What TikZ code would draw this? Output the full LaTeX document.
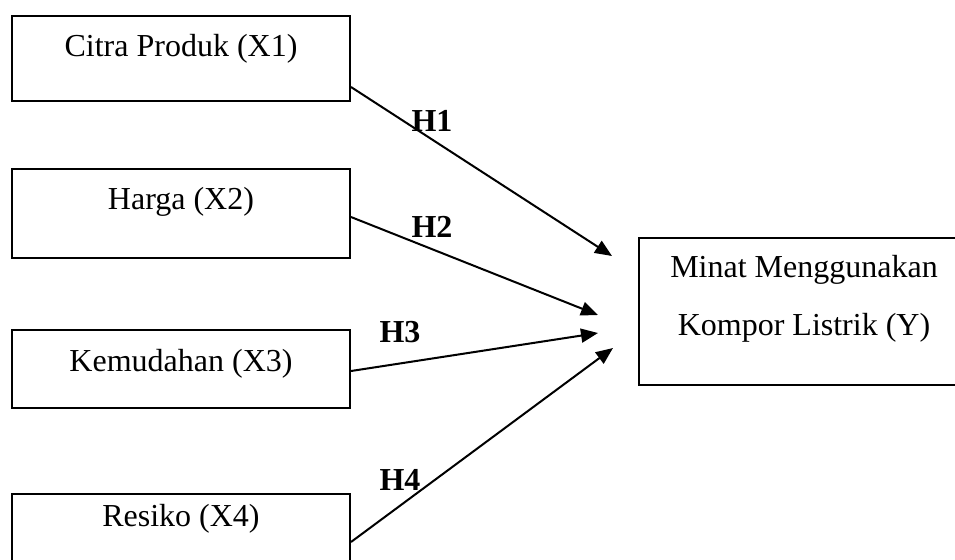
\documentclass[tikz,border=0pt]{standalone}
\usepackage{fontspec}
\setmainfont{Liberation Serif}
\usetikzlibrary{arrows.meta}
\tikzset{
  box/.style={draw, line width=1pt, rectangle, inner sep=0pt, anchor=north west,
    minimum width=169pt, font=\fontsize{16pt}{19.2pt}\selectfont},
  arr/.style={line width=1pt, -{Triangle[length=8.5pt,width=7pt]}},
  hlab/.style={inner sep=0pt, font=\fontsize{16pt}{19.2pt}\selectfont\bfseries}
}
\begin{document}
\begin{tikzpicture}[x=0.5pt,y=-0.5pt]
\useasboundingbox (0,0) rectangle (955,559);
\clip (0,0) rectangle (955,559);
\node[box, text height=20pt, text depth=22.5pt] (x1) at (11,15) {Citra Produk (X1)};
\node[box, text height=20pt, text depth=24.5pt] (x2) at (11,168) {Harga (X2)};
\node[box, text height=20.5pt, text depth=18.5pt] (x3) at (11,329) {Kemudahan (X3)};
\node[box, text height=16pt, text depth=25pt] (x4) at (11,493) {Resiko (X4)};
\node[box, minimum width=165pt, text height=19.5pt, text depth=54pt] (y) at (638,237)
  {\renewcommand\arraystretch{1.536}\begin{tabular}[t]{@{}c@{}}Minat Menggunakan\\Kompor Listrik (Y)\end{tabular}};
\coordinate (t1) at (612,256);
\coordinate (t2) at (598,315);
\coordinate (t3) at (598,333);
\coordinate (t4) at (613,348);
\draw[arr] (x1.north east) ++(0,72) -- (t1);
\draw[arr] (x2.north east) ++(0,49) -- (t2);
\draw[arr] (x3.north east) ++(0,42) -- (t3);
\draw[arr] (x4.north east) ++(0,49) -- (t4);
\node[hlab] (h1) at (432,121) {H1};
\node[hlab] (h2) at (432,227) {H2};
\node[hlab] (h3) at (400,332) {H3};
\node[hlab] (h4) at (400,480) {H4};
\end{tikzpicture}
\end{document}
